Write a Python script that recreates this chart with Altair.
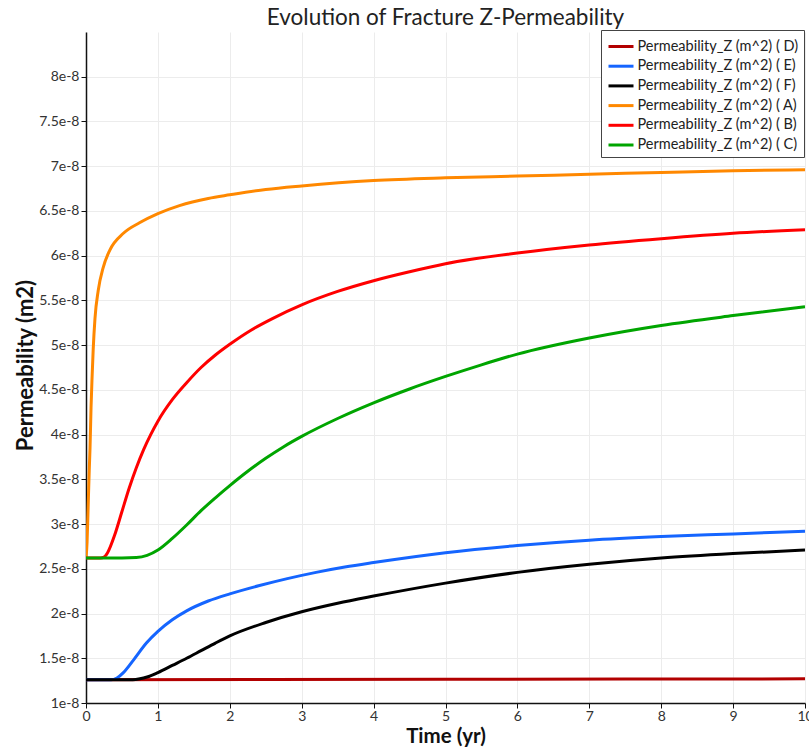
import altair as alt
import pandas as pd

# Permeability values are in units of 1e-8 m^2, time in years
series_labels = [
    "Permeability_Z (m^2) ( D)",
    "Permeability_Z (m^2) ( E)",
    "Permeability_Z (m^2) ( F)",
    "Permeability_Z (m^2) ( A)",
    "Permeability_Z (m^2) ( B)",
    "Permeability_Z (m^2) ( C)",
]
series_colors = ["#b20000", "#1565ff", "#000000", "#ff8800", "#ff0000", "#00a500"]

time_D = [0, 5.0, 10.0]
perm_D = [1.26, 1.265, 1.27]

time_E = [0, 0.35, 0.43, 0.52, 0.66, 0.84, 1.0, 1.2, 1.4, 1.7, 2.0, 2.4, 2.8, 3.2, 3.6, 4.0, 5.0, 6.0, 7.0, 8.0, 9.0, 10.0]
perm_E = [1.26, 1.26, 1.28, 1.34, 1.48, 1.67, 1.80, 1.93, 2.03, 2.14, 2.22, 2.31, 2.39, 2.46, 2.52, 2.57, 2.68, 2.76, 2.82, 2.86, 2.89, 2.92]

time_F = [0, 0.65, 0.75, 0.85, 1.0, 1.2, 1.4, 1.6, 1.8, 2.0, 2.5, 3.0, 3.5, 4.0, 5.0, 6.0, 7.0, 8.0, 9.0, 10.0]
perm_F = [1.26, 1.26, 1.27, 1.29, 1.34, 1.42, 1.50, 1.585, 1.67, 1.75, 1.90, 2.02, 2.115, 2.195, 2.34, 2.46, 2.55, 2.62, 2.67, 2.71]

time_A = [0, 0.015, 0.03, 0.045, 0.056, 0.07, 0.085, 0.1, 0.125, 0.17, 0.24, 0.33, 0.52, 0.75, 1.0, 1.3, 1.7, 2.0, 2.5, 3.0, 4.0, 5.0, 6.0, 7.0, 8.0, 9.0, 10.0]
perm_A = [2.62, 2.8, 3.2, 3.6, 3.85, 4.3, 4.65, 4.95, 5.3, 5.61, 5.87, 6.06, 6.25, 6.37, 6.47, 6.56, 6.64, 6.68, 6.74, 6.78, 6.84, 6.87, 6.89, 6.91, 6.93, 6.95, 6.96]

time_B = [0, 0.2, 0.25, 0.3, 0.4, 0.5, 0.6, 0.7, 0.8, 0.9, 1.0, 1.2, 1.4, 1.6, 1.8, 2.0, 2.3, 2.6, 3.0, 3.5, 4.0, 4.5, 5.0, 6.0, 7.0, 8.0, 9.0, 10.0]
perm_B = [2.62, 2.62, 2.63, 2.68, 2.88, 3.14, 3.40, 3.63, 3.83, 4.0, 4.15, 4.39, 4.58, 4.75, 4.89, 5.01, 5.17, 5.30, 5.45, 5.60, 5.72, 5.82, 5.91, 6.03, 6.12, 6.19, 6.25, 6.29]

time_C = [0, 0.5, 0.7, 0.85, 1.0, 1.2, 1.4, 1.6, 1.8, 2.0, 2.25, 2.5, 2.75, 3.0, 3.5, 4.0, 4.5, 5.0, 5.5, 6.0, 7.0, 8.0, 9.0, 10.0]
perm_C = [2.62, 2.62, 2.625, 2.65, 2.71, 2.84, 2.99, 3.15, 3.294, 3.43, 3.59, 3.735, 3.865, 3.98, 4.18, 4.355, 4.51, 4.65, 4.78, 4.90, 5.08, 5.22, 5.33, 5.43]

y_ticks = [1, 1.5, 2, 2.5, 3, 3.5, 4, 4.5, 5, 5.5, 6, 6.5, 7, 7.5, 8]
x_ticks = list(range(0, 11))

rows = []
for lab, ts, vs in zip(series_labels,
                       [time_D, time_E, time_F, time_A, time_B, time_C],
                       [perm_D, perm_E, perm_F, perm_A, perm_B, perm_C]):
    for t, v in zip(ts, vs):
        rows.append({"series": lab, "time": t, "perm": v})
df = pd.DataFrame(rows)

FONT = "Lato"

chart = alt.Chart(df).mark_line(strokeWidth=3, interpolate="monotone", clip=True).encode(
    x=alt.X("time:Q",
            scale=alt.Scale(domain=[0, 10], nice=False, zero=False),
            axis=alt.Axis(values=x_ticks, title="Time (yr)", titleFont=FONT, titleFontSize=20.5,
                          titleFontWeight="bold", titleColor="#111", titleBaseline="alphabetic",
                          titleY=39, labelFont=FONT, labelFontSize=14, labelColor="#333",
                          labelPadding=1, tickSize=5, tickColor="#111", domainColor="#111",
                          domainWidth=1.5, gridColor="#ececec", labelFlush=False)),
    y=alt.Y("perm:Q",
            scale=alt.Scale(domain=[1, 8.5], nice=False, zero=False),
            axis=alt.Axis(values=y_ticks, labelExpr="datum.value + 'e-8'", title="Permeability (m2)",
                          titleFont=FONT, titleFontSize=22, titleFontWeight="bold", titleColor="#111",
                          titleAngle=270, titleBaseline="alphabetic", titleAlign="center",
                          titleX=-54, titleY=333,
                          labelFont=FONT, labelFontSize=14, labelColor="#333", labelPadding=2,
                          tickSize=5, tickColor="#111", domainColor="#111", domainWidth=1.5,
                          gridColor="#ececec")),
    color=alt.Color("series:N",
                    scale=alt.Scale(domain=series_labels, range=series_colors),
                    sort=series_labels,
                    legend=alt.Legend(title=None, orient="none", legendX=515, legendY=-2,
                                      symbolType="M-1.25,0L1.25,0", symbolStrokeWidth=3,
                                      symbolSize=400, symbolOffset=3.5,
                                      labelFont=FONT, labelFontSize=14.5, labelColor="#222",
                                      labelLimit=300, labelOffset=5, rowPadding=1.7, padding=5,
                                      strokeColor="#444", fillColor="white", cornerRadius=0)),
).properties(
    width=719,
    height=671,
    title=alt.TitleParams("Evolution of Fracture Z-Permeability", font=FONT, fontSize=22.5,
                          fontWeight="normal", color="#222", anchor="middle",
                          baseline="alphabetic", offset=5, frame="group", dy=23),
    autosize=alt.AutoSizeParams(type="none"),
    padding={"left": 86, "top": 32, "right": 4, "bottom": 45},
).configure_view(stroke=None)

chart.save("out.html", embed_options={"renderer": "svg", "actions": False})
